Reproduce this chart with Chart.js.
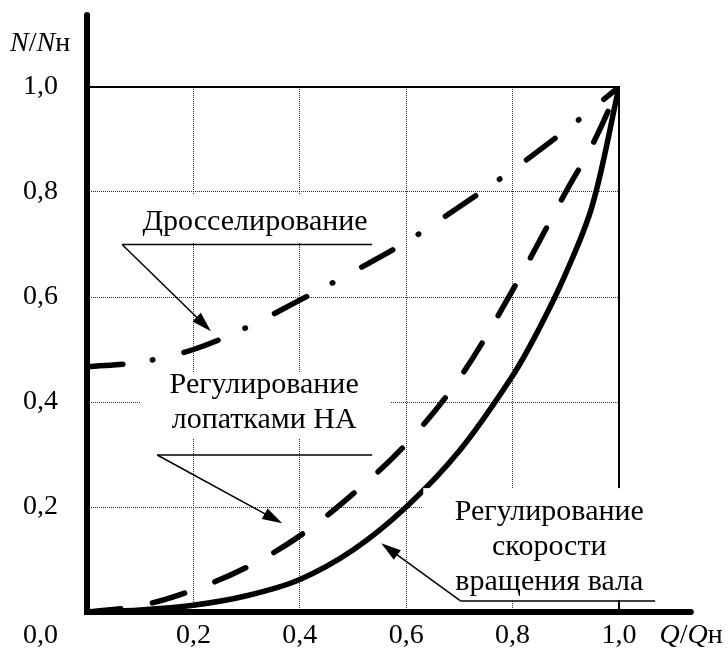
<!DOCTYPE html>
<html lang="ru">
<head>
<meta charset="utf-8">
<title>Мощность при регулировании подачи</title>
<script src="https://cdn.jsdelivr.net/npm/chart.js@4/dist/chart.umd.min.js"></script>
<style>
  html, body { margin: 0; padding: 0; background: #fff; }
  #wrap { width: 728px; height: 651px; position: relative; }
</style>
</head>
<body>
<div id="wrap"><canvas id="chart"></canvas></div>
<script>
// Q/Qн ticks and their printed labels
const flowTicks = [0, 0.2, 0.4, 0.6, 0.8, 1.0];
const tickLabels = ["0,0", "0,2", "0,4", "0,6", "0,8", "1,0"];

// shaft speed control (solid)
const speedQ = [0, 0.1, 0.2, 0.3, 0.4, 0.5, 0.6, 0.7, 0.8, 0.85, 0.9, 0.95, 1.0];
const speedN = [0, 0.004, 0.013, 0.031, 0.062, 0.118, 0.2, 0.307, 0.45, 0.54, 0.645, 0.775, 1.0];

// inlet guide vanes (dashed)
const vanesQ = [0, 0.1, 0.2, 0.3, 0.4, 0.5, 0.6, 0.7, 0.8, 0.9, 0.95, 1.0];
const vanesN = [0, 0.012, 0.042, 0.085, 0.145, 0.225, 0.32, 0.445, 0.613, 0.8, 0.89, 1.0];

// throttling (dash-dot)
const throttleQ = [0, 0.1, 0.2, 0.3, 0.4, 0.5, 0.6, 0.7, 0.8, 0.9, 1.0];
const throttleN = [0.467, 0.476, 0.5, 0.542, 0.594, 0.648, 0.705, 0.772, 0.842, 0.918, 1.0];

const FONT = "'Liberation Serif', 'Times New Roman', serif";
const LABEL_PAD = 29;
const X_LABEL_PAD = 7;

// callouts, all in Q / N units
const callouts = [
  {
    lines: ["Дросселирование"],
    q: 0.316, n: 0.727,
    box: [0.064, 0.794, 0.537, 0.703],
    shelf: [0.066, 0.536, 0.70],
    tip: [0.233, 0.535],
  },
  {
    lines: ["Регулирование", "лопатками НА"],
    q: 0.333, n: 0.417,
    box: [0.1, 0.457, 0.57, 0.331],
    shelf: [0.132, 0.536, 0.299],
    tip: [0.367, 0.169],
  },
  {
    lines: ["Регулирование", "скорости", "вращения вала"],
    q: 0.869, n: 0.175,
    box: [0.632, 0.236, 1.082, 0.023],
    shelf: [0.702, 1.068, 0.021],
    tip: [0.553, 0.131],
  },
];

const toPoints = (qs, ns) => qs.map((q, i) => ({ x: q, y: ns[i] }));

function arrow(ctx, x1, y1, x2, y2) {
  const a = Math.atan2(y2 - y1, x2 - x1);
  const len = 20, half = 6;
  ctx.beginPath();
  ctx.moveTo(x1, y1);
  ctx.lineTo(x2 - Math.cos(a) * len * 0.8, y2 - Math.sin(a) * len * 0.8);
  ctx.stroke();
  ctx.beginPath();
  ctx.moveTo(x2, y2);
  ctx.lineTo(x2 - Math.cos(a) * len - Math.sin(a) * half, y2 - Math.sin(a) * len + Math.cos(a) * half);
  ctx.lineTo(x2 - Math.cos(a) * len + Math.sin(a) * half, y2 - Math.sin(a) * len - Math.cos(a) * half);
  ctx.closePath();
  ctx.fill();
}

// draws pieces of text one after another, some in italics
function drawRuns(ctx, runs, x, y) {
  runs.forEach(([text, italic]) => {
    ctx.font = (italic ? "italic " : "") + "28px " + FONT;
    ctx.fillText(text, x, y);
    x += ctx.measureText(text).width;
  });
}

const drawing = {
  id: "drawing",
  beforeDatasetsDraw(chart) {
    const { ctx, scales: { x, y } } = chart;
    ctx.save();
    ctx.strokeStyle = "#000";
    ctx.lineWidth = 2;
    ctx.beginPath();
    ctx.moveTo(x.getPixelForValue(0), y.getPixelForValue(1));
    ctx.lineTo(x.getPixelForValue(1), y.getPixelForValue(1));
    ctx.lineTo(x.getPixelForValue(1), y.getPixelForValue(0));
    ctx.stroke();
    ctx.restore();
  },
  afterDatasetsDraw(chart) {
    const { ctx, chartArea, scales: { x, y } } = chart;
    const px = (q) => x.getPixelForValue(q);
    const py = (n) => y.getPixelForValue(n);
    ctx.save();

    callouts.forEach((c) => {
      // white plate under the caption
      ctx.fillStyle = "#fff";
      ctx.fillRect(px(c.box[0]), py(c.box[1]), px(c.box[2]) - px(c.box[0]), py(c.box[3]) - py(c.box[1]));

      ctx.fillStyle = "#000";
      ctx.font = "30px " + FONT;
      ctx.textAlign = "center";
      ctx.textBaseline = "alphabetic";
      c.lines.forEach((line, i) => ctx.fillText(line, px(c.q), py(c.n) + i * 35));

      ctx.strokeStyle = "#000";
      ctx.lineWidth = 1.5;
      ctx.beginPath();
      ctx.moveTo(px(c.shelf[0]), py(c.shelf[2]));
      ctx.lineTo(px(c.shelf[1]), py(c.shelf[2]));
      ctx.stroke();
      arrow(ctx, px(c.shelf[0]), py(c.shelf[2]), px(c.tip[0]), py(c.tip[1]));
    });

    // heavy axes
    ctx.strokeStyle = "#000";
    ctx.lineWidth = 6;
    ctx.lineCap = "round";
    ctx.beginPath();
    ctx.moveTo(px(0), py(1.137));
    ctx.lineTo(px(0), py(0));
    ctx.lineTo(px(1.135), py(0));
    ctx.stroke();

    // axis names and the shared origin label
    ctx.fillStyle = "#000";
    ctx.textAlign = "left";
    ctx.textBaseline = "alphabetic";
    drawRuns(ctx, [["N", true], ["/", false], ["N", true], ["н", false]], chartArea.left - 77, py(1.137) + 36);
    drawRuns(ctx, [["Q", true], ["/", false], ["Q", true], ["н", false]], px(1.076), chartArea.bottom + 31);

    ctx.font = "28px " + FONT;
    ctx.textAlign = "right";
    ctx.textBaseline = "middle";
    ctx.fillText(tickLabels[0], chartArea.left - LABEL_PAD, chartArea.bottom + X_LABEL_PAD + 16.8);
    ctx.restore();
  },
};

const lineStyle = {
  borderColor: "#000",
  borderWidth: 5.5,
  borderCapStyle: "round",
  pointRadius: 0,
  tension: 0.35,
  fill: false,
};

const data = {
  datasets: [
    { ...lineStyle, label: "Регулирование скорости вращения вала", data: toPoints(speedQ, speedN) },
    { ...lineStyle, label: "Регулирование лопатками НА", data: toPoints(vanesQ, vanesN), borderDash: [34, 32] },
    { ...lineStyle, label: "Дросселирование", data: toPoints(throttleQ, throttleN), borderDash: [36, 29.5, 0.5, 32.5] },
  ],
};

const gridColor = (c) => (c.tick && c.tick.value > 0 && c.tick.value < 1 ? "#333" : "rgba(0,0,0,0)");
const tickText = (value) => {
  const i = flowTicks.findIndex((t) => Math.abs(t - value) < 1e-6);
  return i > 0 ? tickLabels[i] : "";
};

const config = {
  type: "line",
  data: data,
  options: {
    responsive: true,
    maintainAspectRatio: false,
    animation: false,
    layout: { padding: { top: 87, right: 109, left: 0, bottom: 0 } },
    plugins: { legend: { display: false }, tooltip: { enabled: false } },
    scales: {
      x: {
        type: "linear",
        min: 0,
        max: 1,
        afterFit: (scale) => { scale.height = 39; },
        afterBuildTicks: (scale) => { scale.ticks = flowTicks.map((v) => ({ value: v })); },
        ticks: { color: "#000", font: { size: 28 }, padding: X_LABEL_PAD, maxRotation: 0, callback: tickText },
        grid: { color: gridColor, lineWidth: 1, drawTicks: false },
        border: { display: false, dash: [1, 1] },
      },
      y: {
        type: "linear",
        min: 0,
        max: 1,
        // keep the label gap from pushing the plot area up
        afterFit: (scale) => { scale.width = 87; scale.paddingTop = 0; scale.paddingBottom = 0; },
        afterBuildTicks: (scale) => { scale.ticks = flowTicks.map((v) => ({ value: v })); },
        ticks: { color: "#000", font: { size: 28 }, padding: LABEL_PAD, callback: tickText },
        grid: { color: gridColor, lineWidth: 1, drawTicks: false },
        border: { display: false, dash: [1, 1] },
      },
    },
  },
  plugins: [drawing],
};

Chart.defaults.font.family = FONT;
new Chart(document.getElementById("chart"), config);
</script>
</body>
</html>
